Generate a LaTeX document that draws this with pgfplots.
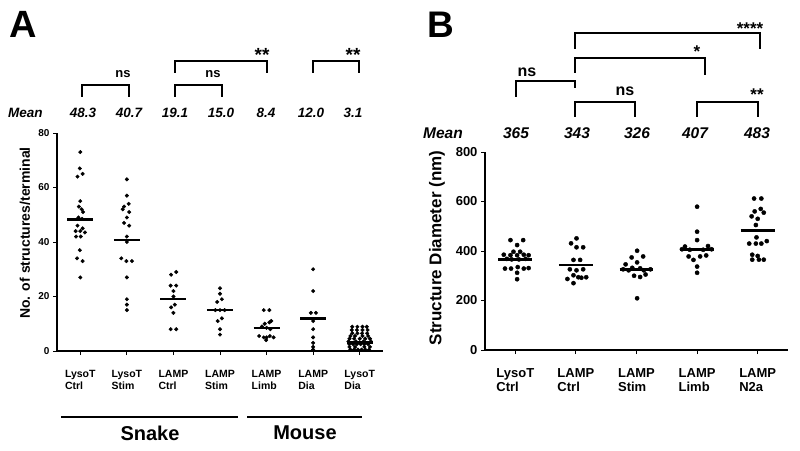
\documentclass[border=0pt]{standalone}
\usepackage{fontspec}
\setmainfont{Liberation Sans}
\usepackage{pgfplots}
\pgfplotsset{compat=1.18}
\begin{document}
\begin{tikzpicture}[x=1pt,y=1pt]
\path (0,0) rectangle (800,450);
% ---------------- Panel A ----------------
\begin{axis}[at={(57pt,99pt)}, anchor=south west, scale only axis,
  width=326pt, height=218pt, xmin=-0.5, xmax=6.5, ymin=0, ymax=80,
  axis lines*=left, axis line style={line width=1.5pt},
  tick align=outside, major tick length=4pt, tick style={line width=1pt,black},
  xtick={0,...,6}, ytick={0,20,40,60,80},
  xticklabels={{LysoT\\Ctrl},{LysoT\\Stim},{LAMP\\Ctrl},{LAMP\\Stim},{LAMP\\Limb},{LAMP\\Dia},{LysoT\\Dia}},
  xticklabel style={align=left, font=\bfseries\fontsize{10.5}{12}\selectfont, yshift=-12pt},
  yticklabel style={font=\bfseries\fontsize{10}{12}\selectfont},
  /pgf/number format/assume math mode=true,
  clip=false]
\addplot[only marks, mark=*, mark size=1.8pt, black] coordinates {
(0,73)(-0.01,67)(0.05,65)(-0.06,64)(0,55)(-0.03,53)(0.03,52)(0.06,51)(-0.04,49)(0.04,48.5)
(-0.06,46)(0.05,45)(-0.1,44)(0,44)(0.1,43.5)(-0.09,42)(0.01,42)(-0.01,37)(-0.07,34)(0.05,33)(0,27)
(1,63)(1,57)(1.04,54)(0.94,53)(0.91,52)(1.05,51)(1,49)(0.94,47)(1.05,46)(1,42)(1,40)(0.88,34)(0.99,33)(1.11,33)(1,27)(1,19)(1,17)(1,15)
(2.06,29)(1.95,28)(1.94,24)(2.06,24)(2,22)(2,20)(2.03,17)(1.95,16)(2,14)(1.94,8)(2.06,8)
(3,23)(3,21)(3.04,19)(2.94,18)(2.9,15)(3,15)(3.1,15)(3.04,12)(2.95,11)(3,8)(3,6)
(3.94,15)(4.06,15)(3.96,10)(4.06,10.5)(4.1,11)(3.9,9)(4,8.5)(4.08,8)(3.84,5.5)(4.07,5.5)(3.94,5)(4,5)(3.99,4)(4.15,5)
(5,30)(5,22)(4.95,14)(5.06,14)(5,11)(5,8)(5,5)(5,3)(5,1.5)(5,0.5)
(5.8,0.5)(5.88,0.5)(5.96,0.5)(6.04,0.5)(6.12,0.5)(6.2,0.5)
(5.78,1.5)(6.22,1.5)(5.9,1.5)(6.1,1.5)
(5.78,2.5)(5.86,2.5)(5.94,2.5)(6.02,2.5)(6.1,2.5)(6.18,2.5)
(5.76,3.5)(6.24,3.5)(5.92,3.5)(6.08,3.5)
(5.78,4.5)(5.88,4.5)(6,4.5)(6.12,4.5)(6.22,4.5)
(5.8,5.5)(5.9,5.5)(6.06,5.5)(6.18,5.5)
(5.84,6.5)(6.16,6.5)(5.95,6.5)(6.05,6.5)
(5.83,7.7)(5.94,7.7)(6.06,7.7)(6.17,7.7)
(5.84,8.9)(5.95,8.9)(6.06,8.9)(6.15,8.9)
};
\addplot[black, line width=2.5pt] coordinates {(-0.28,48.3)(0.28,48.3)};
\addplot[black, line width=2.5pt] coordinates {(0.72,40.7)(1.28,40.7)};
\addplot[black, line width=2.5pt] coordinates {(1.72,19.1)(2.28,19.1)};
\addplot[black, line width=2.5pt] coordinates {(2.72,15.0)(3.28,15.0)};
\addplot[black, line width=2.5pt] coordinates {(3.72,8.4)(4.28,8.4)};
\addplot[black, line width=2.5pt] coordinates {(4.72,12.0)(5.28,12.0)};
\addplot[black, line width=2.5pt] coordinates {(5.72,3.1)(6.28,3.1)};
\end{axis}
% ---------------- Panel B ----------------
\begin{axis}[at={(485pt,100pt)}, anchor=south west, scale only axis,
  width=303pt, height=198pt, xmin=-0.5, xmax=4.5, ymin=0, ymax=800,
  axis lines*=left, axis line style={line width=1.5pt},
  tick align=outside, major tick length=4pt, tick style={line width=1pt,black},
  xtick={0,...,4}, ytick={0,200,400,600,800},
  xticklabels={{LysoT\\Ctrl},{LAMP\\Ctrl},{LAMP\\Stim},{LAMP\\Limb},{LAMP\\N2a}},
  xticklabel style={align=left, font=\bfseries\fontsize{13}{14.5}\selectfont, yshift=-11pt},
  yticklabel style={font=\bfseries\fontsize{13}{14}\selectfont},
  /pgf/number format/assume math mode=true,
  clip=false]
\addplot[only marks, mark=*, mark size=2.1pt, black] coordinates {
(-0.08,444)(0.13,444)(0.03,424)(-0.03,397)(0.08,397)(-0.19,385)(-0.08,383)(0.03,383)(0.14,385)(0.22,383)
(-0.14,368)(-0.06,366)(0.06,366)(0.17,368)(-0.17,329)(-0.07,329)(0.04,335)(0.14,329)(0.22,331)(0.03,312)(0.03,286)
(1.01,451)(0.92,431)(1.01,415)(1.12,415)(0.96,364)(1.07,364)(0.9,326)(1.01,322)(1.12,326)(0.96,302)(1.09,292)(0.86,287)(1.04,294)(1.17,294)(0.96,270)
(2.01,401)(1.92,374)(2.11,378)(2.01,354)(1.82,346)(1.78,326)(1.87,322)(2.12,322)(2.23,326)(1.96,300)(2.06,295)(2.15,305)(2.01,209)(1.93,332)(2.06,330)
(3,579)(3,478)(3,444)(2.8,418)(3.18,420)(2.75,407)(2.88,405)(3.1,405)(3.24,407)(2.86,378)(3.05,378)(3.15,382)(2.94,364)(3,337)(3,312)
(3.94,612)(4.06,612)(4.05,570)(3.95,560)(4.1,555)(3.9,540)(4,530)(3.97,505)(3.98,455)(3.86,430)(3.97,430)(4.06,430)(4.15,440)(3.91,385)(4,380)(3.91,365)(4.1,365)(4.02,365)
};
\addplot[black, line width=2.5pt] coordinates {(-0.28,365)(0.28,365)};
\addplot[black, line width=2.5pt] coordinates {(0.72,343)(1.28,343)};
\addplot[black, line width=2.5pt] coordinates {(1.72,326)(2.28,326)};
\addplot[black, line width=2.5pt] coordinates {(2.72,407)(3.28,407)};
\addplot[black, line width=2.5pt] coordinates {(3.72,483)(4.28,483)};
\end{axis}
% ---------------- Annotations A ----------------
\node[font=\bfseries\fontsize{38}{40}\selectfont] at (23,426) {A};
\node[rotate=90, font=\bfseries\fontsize{14}{16}\selectfont] at (25,217) {No. of structures/terminal};
\begin{scope}[font=\bfseries\itshape\fontsize{13.5}{15}\selectfont]
\node[anchor=west, inner sep=0pt] at (8,337) {Mean};
\node at (83,337) {48.3};
\node at (129,337) {40.7};
\node at (175,337) {19.1};
\node at (221,337) {15.0};
\node at (266,337) {8.4};
\node at (311,337) {12.0};
\node at (353,337) {3.1};
\end{scope}
\begin{scope}[line width=2pt]
\draw (82,353)--(82,365)--(129,365)--(129,353);
\draw (175,353)--(175,365)--(222,365)--(222,353);
\draw (175,377)--(175,389)--(267,389)--(267,377);
\draw (313,377)--(313,389)--(359,389)--(359,377);
\end{scope}
\begin{scope}[font=\bfseries\fontsize{13}{15}\selectfont]
\node at (123,376) {ns};
\node at (213,376) {ns};
\end{scope}
\begin{scope}[font=\bfseries\fontsize{19}{20}\selectfont]
\node at (262,395) {**};
\node at (353,395) {**};
\end{scope}
\draw[line width=2.5pt] (61,33)--(238,33);
\draw[line width=2.5pt] (247,33)--(362,33);
\node[font=\bfseries\fontsize{20}{22}\selectfont] at (150,17) {Snake};
\node[font=\bfseries\fontsize{20}{22}\selectfont] at (305,17) {Mouse};
% ---------------- Annotations B ----------------
\node[font=\bfseries\fontsize{37}{40}\selectfont] at (441,425) {B};
\node[rotate=90, font=\bfseries\fontsize{17}{19}\selectfont] at (437,202) {Structure Diameter (nm)};
\begin{scope}[font=\bfseries\itshape\fontsize{15.5}{17}\selectfont]
\node[anchor=west, inner sep=0pt] at (423,317) {Mean};
\node at (516,317) {365};
\node at (577,317) {343};
\node at (637,317) {326};
\node at (695,317) {407};
\node at (757,317) {483};
\end{scope}
\begin{scope}[line width=2pt]
\draw (575,401)--(575,417)--(760,417)--(760,401);
\draw (575,377)--(575,392)--(705,392)--(705,375);
\draw (516,353)--(516,369)--(575,369)--(575,362);
\draw (575,333)--(575,348)--(635,348)--(635,333);
\draw (697,333)--(697,348)--(758,348)--(758,333);
\end{scope}
\begin{scope}[font=\bfseries\fontsize{17}{18}\selectfont]
\node at (750,421) {****};
\node at (697,398) {*};
\node at (757,355) {**};
\end{scope}
\begin{scope}[font=\bfseries\fontsize{16}{18}\selectfont]
\node at (527,378) {ns};
\node at (625,359) {ns};
\end{scope}
\end{tikzpicture}
\end{document}
